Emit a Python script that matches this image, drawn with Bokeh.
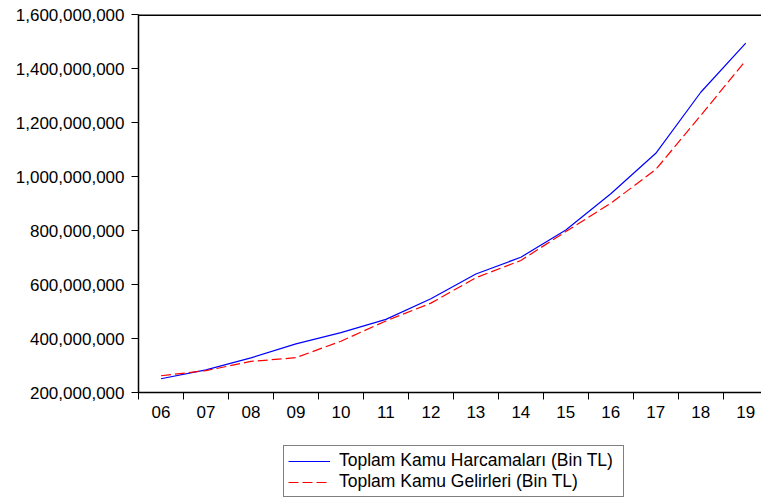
from bokeh.plotting import figure
from bokeh.layouts import column
from bokeh.models import (ColumnDataSource, FixedTicker, NumeralTickFormatter,
                          Legend, LegendItem, Range1d, Span)
from bokeh.embed import file_html
from bokeh.resources import INLINE

years = ["06", "07", "08", "09", "10", "11", "12", "13", "14", "15", "16", "17", "18", "19"]
harcama = [251e6, 284e6, 328e6, 380e6, 422e6, 471e6, 547e6, 639e6, 701e6, 802e6,
           936e6, 1086e6, 1312e6, 1494e6]
gelir = [262e6, 281e6, 315e6, 329e6, 390e6, 465e6, 531e6, 625e6, 689e6, 796e6,
         901e6, 1026e6, 1226e6, 1430e6]
y_ticks = [200e6, 400e6, 600e6, 800e6, 1000e6, 1200e6, 1400e6, 1600e6]
labels = ["Toplam Kamu Harcamaları (Bin TL)", "Toplam Kamu Gelirleri (Bin TL)"]

xs = list(range(len(years)))
src = ColumnDataSource(data=dict(x=xs, h=harcama, g=gelir))

FONT = "Liberation Sans"
FS = "17px"
BLUE = "#0000ff"
RED = "#ff0000"
DASH = "10 4"

p = figure(output_backend="svg", toolbar_location=None,
           frame_width=623, frame_height=378,
           min_border_left=138, min_border_right=0, min_border_top=14, min_border_bottom=38,
           x_range=Range1d(-0.5, 13.35), y_range=Range1d(200e6, 1600e6))
p.background_fill_color = "white"
p.border_fill_color = "white"
p.outline_line_color = None
p.grid.visible = False

p.line("x", "h", source=src, line_color=BLUE, line_width=1.2)
p.line("x", "g", source=src, line_color=RED, line_width=1.2, line_dash=DASH)

p.add_layout(Span(location=1600e6, dimension="width", line_color="black", line_width=3))

# x axis
xa = p.xaxis[0]
xa.ticker = FixedTicker(ticks=xs, minor_ticks=[i - 0.5 for i in range(len(years) + 1)])
xa.major_label_overrides = {i: y for i, y in enumerate(years)}
xa.major_tick_line_color = None
xa.major_tick_out = 7
xa.major_tick_in = 0
xa.minor_tick_line_color = "black"
xa.minor_tick_out = 7
xa.minor_tick_in = 0
xa.major_label_standoff = 6
xa.axis_line_color = "black"
xa.axis_line_width = 1.5
xa.major_label_text_font = FONT
xa.major_label_text_font_size = FS
xa.major_label_text_color = "black"

# y axis
ya = p.yaxis[0]
ya.ticker = FixedTicker(ticks=y_ticks)
ya.formatter = NumeralTickFormatter(format="0,0")
ya.major_tick_out = 7
ya.major_tick_in = 0
ya.minor_tick_line_color = None
ya.major_label_standoff = 7
ya.axis_line_color = "black"
ya.axis_line_width = 1.5
ya.major_label_text_font = FONT
ya.major_label_text_font_size = FS
ya.major_label_text_color = "black"

# legend panel (separate figure below the chart); its lines lie outside its view
p2 = figure(output_backend="svg", toolbar_location=None,
            frame_width=761, frame_height=74,
            min_border_left=0, min_border_right=0, min_border_top=0, min_border_bottom=0,
            x_axis_type=None, y_axis_type=None,
            x_range=Range1d(-10, -9), y_range=Range1d(-10, -9))
p2.background_fill_color = "white"
p2.border_fill_color = "white"
p2.outline_line_color = None
p2.grid.visible = False
l1 = p2.line("x", "h", source=src, line_color=BLUE, line_width=1.2)
l2 = p2.line("x", "g", source=src, line_color=RED, line_width=1.2, line_dash=DASH)

legend = Legend(items=[
    LegendItem(label=labels[0], renderers=[l1]),
    LegendItem(label=labels[1], renderers=[l2]),
], location=(283, 7))
legend.label_text_font = FONT
legend.label_text_font_size = "17.5px"
legend.label_text_color = "black"
legend.glyph_width = 42
legend.glyph_height = 20
legend.label_height = 20
legend.label_width = 280
legend.label_standoff = 9
legend.padding = 4
legend.margin = 0
legend.spacing = 0
legend.border_line_color = "black"
legend.border_line_width = 1
legend.background_fill_alpha = 1
p2.add_layout(legend, "center")

layout = column(p, p2, spacing=0)
open("out.html", "w").write(file_html(layout, INLINE))
